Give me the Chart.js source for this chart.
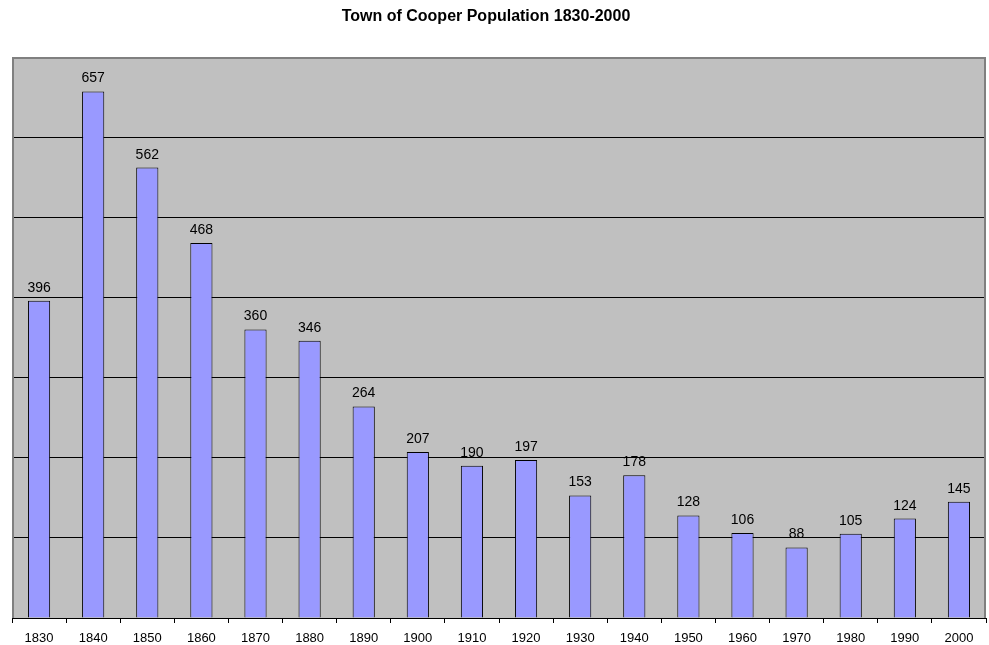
<!DOCTYPE html>
<html>
<head>
<meta charset="utf-8">
<script src="https://cdn.jsdelivr.net/npm/chart.js@4/dist/chart.umd.min.js"></script>
<style>
  html, body { margin: 0; padding: 0; background: #fff; }
  #wrap { width: 989px; height: 645px; }
</style>
</head>
<body>
<div id="wrap"><canvas id="popChart"></canvas></div>
<script>
const years = ['1830', '1840', '1850', '1860', '1870', '1880', '1890', '1900', '1910',
               '1920', '1930', '1940', '1950', '1960', '1970', '1980', '1990', '2000'];
const population = [396, 657, 562, 468, 360, 346, 264, 207, 190, 197, 153, 178, 128, 106, 88, 105, 124, 145];
const chartTitle = 'Town of Cooper Population 1830-2000';
const yMax = 700;
const yStep = 100;

// grey plot area with a thin border, like an old spreadsheet chart
const plotBackground = {
    id: 'plotBackground',
    beforeDraw(chart) {
        const { ctx, chartArea: a } = chart;
        ctx.save();
        ctx.fillStyle = '#c0c0c0';
        ctx.fillRect(a.left, a.top, a.right - a.left, a.bottom - a.top);
        ctx.restore();
    },
    afterDraw(chart) {
        const { ctx, chartArea: a } = chart;
        ctx.save();
        ctx.strokeStyle = '#808080';
        ctx.lineWidth = 2;
        ctx.beginPath();
        ctx.moveTo(a.left + 1, a.bottom);
        ctx.lineTo(a.left + 1, a.top + 1);
        ctx.lineTo(a.right - 1, a.top + 1);
        ctx.lineTo(a.right - 1, a.bottom);
        ctx.stroke();
        // title sits a bit left of the plot centre in the original
        ctx.font = 'bold 16px "Liberation Sans", Arial, sans-serif';
        ctx.fillStyle = '#000';
        ctx.textAlign = 'center';
        ctx.textBaseline = 'middle';
        ctx.fillText(chartTitle, 486, 17);
        ctx.restore();
    }
};

// value labels above each bar
const barValues = {
    id: 'barValues',
    afterDatasetsDraw(chart) {
        const { ctx } = chart;
        const meta = chart.getDatasetMeta(0);
        ctx.save();
        ctx.font = '14px "Liberation Sans", Arial, sans-serif';
        ctx.fillStyle = '#000';
        ctx.textAlign = 'center';
        ctx.textBaseline = 'alphabetic';
        meta.data.forEach((bar, i) => {
            ctx.fillText(String(chart.data.datasets[0].data[i]), bar.x, bar.y - 9);
        });
        ctx.restore();
    }
};

new Chart(document.getElementById('popChart').getContext('2d'), {
    type: 'bar',
    data: {
        labels: years,
        datasets: [{
            label: 'Population',
            data: population,
            backgroundColor: '#9999ff',
            borderColor: '#000000',
            borderWidth: 1,
            borderSkipped: 'bottom',
            categoryPercentage: 1.0,
            barPercentage: 0.41
        }]
    },
    options: {
        responsive: true,
        maintainAspectRatio: false,
        animation: false,
        layout: {
            padding: { left: 12, right: 3, top: 57, bottom: 0 }
        },
        scales: {
            x: {
                afterFit(scale) { scale.height = 27; },
                grid: {
                    offset: true,
                    drawOnChartArea: false,
                    drawTicks: true,
                    tickLength: 5,
                    color: '#000'
                },
                border: { display: true, color: '#000', width: 1 },
                ticks: {
                    color: '#000',
                    padding: 8,
                    maxRotation: 0,
                    font: { family: '"Liberation Sans", Arial, sans-serif', size: 13 }
                }
            },
            y: {
                min: 0,
                max: yMax,
                ticks: { display: false, stepSize: yStep },
                grid: {
                    drawTicks: false,
                    color: (c) => (c.tick && c.tick.value === yMax) ? 'rgba(0,0,0,0)' : '#000',
                    lineWidth: 1
                },
                border: { display: false }
            }
        },
        plugins: {
            legend: { display: false },
            tooltip: { enabled: false },
            title: { display: false }
        }
    },
    plugins: [plotBackground, barValues]
});
</script>
</body>
</html>
